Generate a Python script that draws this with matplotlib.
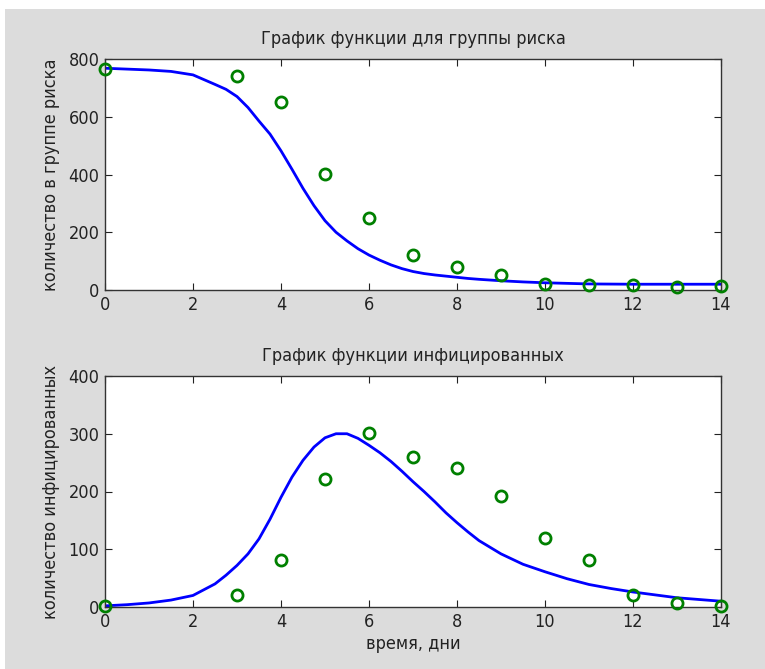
import matplotlib
matplotlib.use("Agg")
import matplotlib.pyplot as plt
from matplotlib.patches import Rectangle

# observed data, days
days = [0, 3, 4, 5, 6, 7, 8, 9, 10, 11, 12, 13, 14]
risk_obs = [765, 740, 650, 402, 248, 121, 81, 52, 22, 17, 17, 12, 14]
infected_obs = [2, 21, 81, 221, 301, 260, 241, 192, 120, 81, 21, 7, 2]

# model solution (finer sampling where the curves bend)
t_model = [0, 0.5, 1, 1.5, 2, 2.5, 2.75, 3, 3.25, 3.5, 3.75, 4, 4.25, 4.5, 4.75,
           5, 5.25, 5.5, 5.75, 6, 6.25, 6.5, 6.75, 7, 7.25, 7.5, 7.75, 8, 8.25,
           8.5, 9, 9.5, 10, 10.5, 11, 11.5, 12, 12.5, 13, 13.5, 14]
risk_model = [768, 765, 762, 757, 745, 712, 695, 670, 632, 585, 540, 482, 418, 352, 292,
              240, 200, 170, 143, 121, 103, 87, 74, 64, 57, 52, 48, 44, 40,
              37, 32, 28, 25, 23, 21, 20.5, 20, 20, 20, 20, 20]
infected_model = [2, 4, 7, 12, 20, 40, 55, 72, 92, 118, 152, 190, 225, 254, 277,
                  293, 300, 300, 292, 280, 267, 252, 235, 217, 200, 182, 163, 146, 130,
                  115, 92, 74, 61, 49, 39, 32, 26, 21, 16, 13, 10]

plt.rcParams['font.family'] = ['DejaVu Sans']
plt.rcParams['font.stretch'] = 'condensed'

fig = plt.figure(figsize=(7.65, 6.69), dpi=100)
fig.patch.set_facecolor('white')
fig.patches.append(Rectangle((5 / 765, 0), 1, 660 / 669, transform=fig.transFigure,
                             facecolor='#dcdcdc', edgecolor='none', zorder=-10))

W, H = 765, 669
ax1 = fig.add_axes([105 / W, 1 - 290 / H, 616 / W, 231 / H])
ax2 = fig.add_axes([105 / W, 1 - 607 / H, 616 / W, 231 / H])

panels = [
    (ax1, risk_model, risk_obs, 'График функции для группы риска',
     'количество в группе риска', [0, 200, 400, 600, 800]),
    (ax2, infected_model, infected_obs, 'График функции инфицированных',
     'количество инфицированных', [0, 100, 200, 300, 400]),
]

for ax, model, obs, title, ylabel, yt in panels:
    ax.plot(t_model, model, color='#0000ff', lw=2, zorder=2)
    ax.plot(days, obs, 'o', ms=8, mfc='none', mec='#008000', mew=2,
            zorder=3, clip_on=False)
    ax.set_xlim(0, 14)
    ax.set_ylim(yt[0], yt[-1])
    ax.set_xticks(range(0, 15, 2))
    ax.set_yticks(yt)
    ax.tick_params(direction='in', length=5, top=True, right=True,
                   labelsize=13, colors='#222222', pad=4)
    for s in ax.spines.values():
        s.set_color('#333333')
        s.set_linewidth(1)
    ax.set_title(title, fontsize=13, color='#222222', pad=11)
    ax.set_ylabel(ylabel, fontsize=13, color='#222222', labelpad=6)

ax2.set_xlabel('время, дни', fontsize=13, color='#222222', labelpad=3)

fig.savefig('out.png', dpi=100)
